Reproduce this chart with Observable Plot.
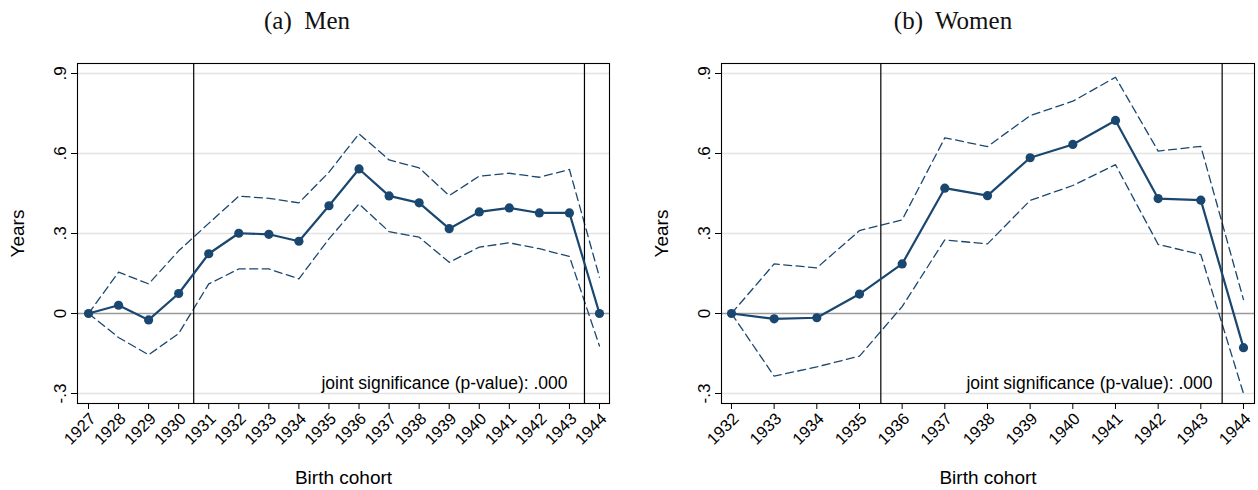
<!DOCTYPE html>
<html>
<head>
<meta charset="utf-8">
<script src="https://cdn.jsdelivr.net/npm/d3@7"></script>
<script src="https://cdn.jsdelivr.net/npm/@observablehq/plot@0.6"></script>
<style>
  html, body { margin: 0; padding: 0; background: #fff; }
  #root { position: relative; width: 1258px; height: 490px; overflow: hidden; font-family: "Liberation Sans", Arial, sans-serif; }
  .panel { position: absolute; top: 0; width: 629px; height: 490px; }
  .title { position: absolute; top: 0; height: 45px; line-height: 42px; font-family: "Liberation Serif", "DejaVu Serif", serif; font-size: 25px; white-space: pre; transform: translateX(-50%); color: #111; }
  .chart { position: absolute; top: 45px; left: 0; }
</style>
</head>
<body>
<div id="root"></div>
<script>
// ---- data ----
const menCohorts   = [1927,1928,1929,1930,1931,1932,1933,1934,1935,1936,1937,1938,1939,1940,1941,1942,1943,1944];
const menEstimate  = [0, 0.031, -0.024, 0.075, 0.224, 0.301, 0.297, 0.271, 0.404, 0.542, 0.441, 0.415, 0.318, 0.381, 0.396, 0.377, 0.377, 0];
const menUpper     = [0, 0.155, 0.111, 0.235, 0.338, 0.440, 0.432, 0.415, 0.530, 0.674, 0.576, 0.546, 0.442, 0.515, 0.526, 0.511, 0.540, 0.136];
const menLower     = [0, -0.090, -0.155, -0.075, 0.111, 0.167, 0.167, 0.130, 0.280, 0.411, 0.307, 0.286, 0.192, 0.249, 0.265, 0.243, 0.214, -0.122];
const menBreaks    = [1930.5, 1943.5];

const womenCohorts  = [1932,1933,1934,1935,1936,1937,1938,1939,1940,1941,1942,1943,1944];
const womenEstimate = [0, -0.020, -0.016, 0.073, 0.186, 0.470, 0.442, 0.584, 0.634, 0.724, 0.431, 0.425, -0.128];
const womenUpper    = [0, 0.186, 0.171, 0.311, 0.351, 0.659, 0.626, 0.742, 0.796, 0.886, 0.609, 0.627, 0.052];
const womenLower    = [0, -0.235, -0.200, -0.160, 0.026, 0.276, 0.261, 0.424, 0.480, 0.558, 0.259, 0.221, -0.300];
const womenBreaks   = [1935.5, 1943.5];

const yTicks      = [-0.3, 0, 0.3, 0.6, 0.9];
const yTickLabels = ["-.3", "0", ".3", ".6", ".9"];
const gridTicks   = [-0.3, 0.3, 0.6, 0.9];

const titles     = ["(a)  Men", "(b)  Women"];
const xLabel     = "Birth cohort";
const yLabel     = "Years";
const annotation = "joint significance (p-value): .000";

// ---- drawing ----
const navy = "#1a476f";
const sans = "Liberation Sans";
const root = document.getElementById("root");

function panel(opts) {
  const {left, titleX, cohorts, est, up, lo, breaks, mL, mR, padL, padR} = opts;
  const div = document.createElement("div");
  div.className = "panel";
  div.style.left = left + "px";
  const t = document.createElement("div");
  t.className = "title";
  t.style.left = titleX + "px";
  t.textContent = opts.title;
  div.appendChild(t);

  const rows = cohorts.map((c, i) => ({c, est: est[i], up: up[i], lo: lo[i]}));
  const yRows = yTicks.map((v, i) => ({v, label: yTickLabels[i]}));
  const first = cohorts[0], last = cohorts[cohorts.length - 1];
  const chart = Plot.plot({
    width: 629,
    height: 445,
    marginTop: 18,
    marginBottom: 87,
    marginLeft: mL,
    marginRight: mR,
    style: {fontFamily: sans, fontSize: "15px", color: "#000", background: "transparent"},
    x: {type: "linear", domain: [first - padL, last + padR]},
    y: {domain: [-0.3375, 0.9375]},
    marks: [
      Plot.gridY(gridTicks, {stroke: "#e3e3e3", strokeOpacity: 1, strokeWidth: 1.5}),
      Plot.ruleY([0], {stroke: "#9a9a9a", strokeWidth: 1.4}),
      Plot.line(rows, {x: "c", y: "up", stroke: navy, strokeWidth: 1.3, strokeDasharray: "8,4.5"}),
      Plot.line(rows, {x: "c", y: "lo", stroke: navy, strokeWidth: 1.3, strokeDasharray: "8,4.5"}),
      Plot.ruleX(breaks, {stroke: "#000", strokeWidth: 1.2}),
      Plot.line(rows, {x: "c", y: "est", stroke: navy, strokeWidth: 2.2}),
      Plot.dot(rows, {x: "c", y: "est", fill: navy, r: 4.6}),
      Plot.frame({stroke: "#000", strokeWidth: 1.1}),
      // tick marks
      Plot.axisY({ticks: yTicks, tickFormat: () => "", tickSize: 6, label: null}),
      Plot.axisX({ticks: cohorts, tickFormat: () => "", tickSize: 6, label: null}),
      // tick labels
      Plot.text(yRows, {y: "v", text: "label", frameAnchor: "left", dx: -12, rotate: -90, textAnchor: "middle", lineAnchor: "bottom", fontSize: 17, fontFamily: sans, fill: "#000"}),
      Plot.text(cohorts, {x: d => d, text: d => String(d), frameAnchor: "bottom", dy: 8, rotate: -45, textAnchor: "end", lineAnchor: "top", fontSize: 16.5, fontFamily: sans, fill: "#000"}),
      Plot.text([annotation], {frameAnchor: "bottom-right", dx: -42, dy: -20, textAnchor: "end", lineAnchor: "middle", fontSize: 17.5, fontFamily: sans, fill: "#000"}),
      Plot.text([yLabel], {frameAnchor: "left", dx: -60, rotate: -90, textAnchor: "middle", lineAnchor: "middle", fontSize: 19, fontFamily: sans, fill: "#000"}),
      Plot.text([xLabel], {frameAnchor: "bottom", dy: 74, textAnchor: "middle", lineAnchor: "middle", fontSize: 19, fontFamily: sans, fill: "#000"})
    ]
  });
  chart.classList.add("chart");
  chart.style.position = "absolute";
  chart.style.top = "45px";
  chart.style.left = "0px";
  div.appendChild(chart);
  root.appendChild(div);
}

panel({left: 0, titleX: 307, title: titles[0], cohorts: menCohorts, est: menEstimate, up: menUpper, lo: menLower, breaks: menBreaks, mL: 77, mR: 20, padL: 0.366, padR: 0.333});
panel({left: 629, titleX: 324, title: titles[1], cohorts: womenCohorts, est: womenEstimate, up: womenUpper, lo: womenLower, breaks: womenBreaks, mL: 92, mR: 4, padL: 0.234, padR: 0.258});
</script>
</body>
</html>
